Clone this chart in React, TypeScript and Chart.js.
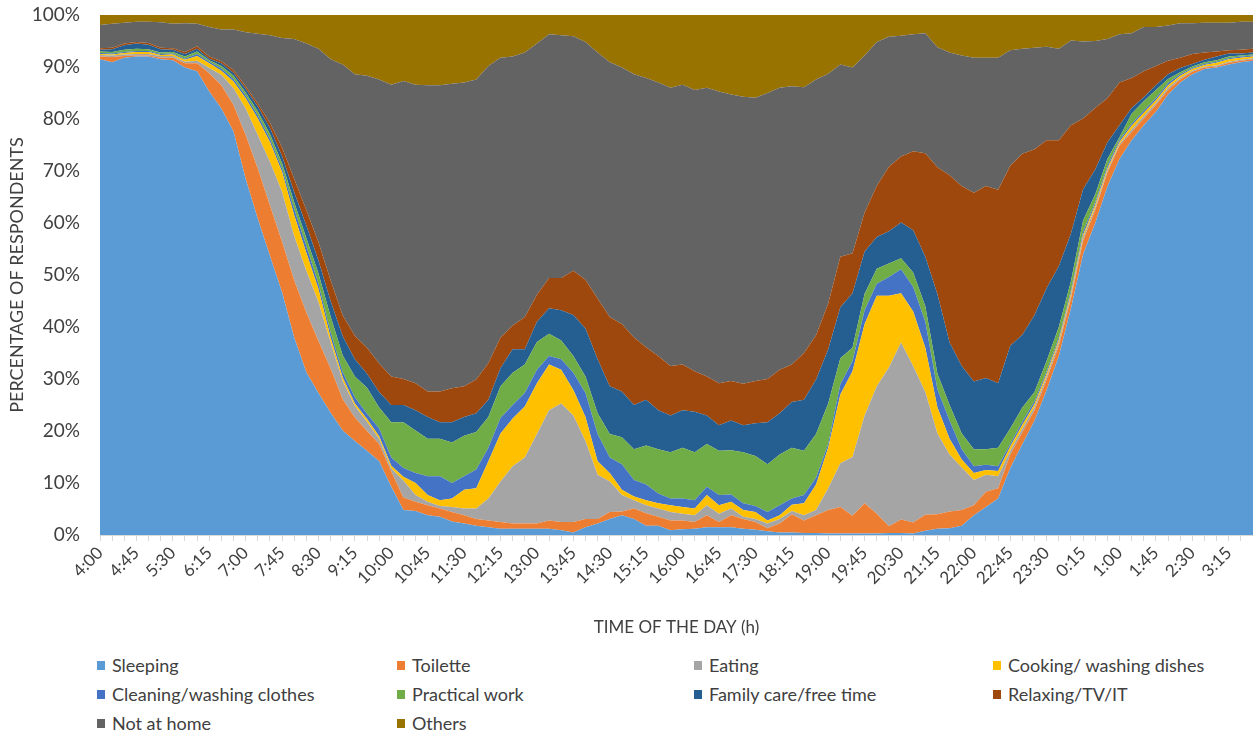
import React, { useEffect, useRef } from 'react';
import { Chart, registerables } from 'chart.js';

Chart.register(...registerables);

const timeLabels = [
  '4:00', '4:15', '4:30', '4:45', '5:00', '5:15', '5:30', '5:45', '6:00', '6:15',
  '6:30', '6:45', '7:00', '7:15', '7:30', '7:45', '8:00', '8:15', '8:30', '8:45',
  '9:00', '9:15', '9:30', '9:45', '10:00', '10:15', '10:30', '10:45', '11:00', '11:15',
  '11:30', '11:45', '12:00', '12:15', '12:30', '12:45', '13:00', '13:15', '13:30', '13:45',
  '14:00', '14:15', '14:30', '14:45', '15:00', '15:15', '15:30', '15:45', '16:00', '16:15',
  '16:30', '16:45', '17:00', '17:15', '17:30', '17:45', '18:00', '18:15', '18:30', '18:45',
  '19:00', '19:15', '19:30', '19:45', '20:00', '20:15', '20:30', '20:45', '21:00', '21:15',
  '21:30', '21:45', '22:00', '22:15', '22:30', '22:45', '23:00', '23:15', '23:30', '23:45',
  '0:00', '0:15', '0:30', '0:45', '1:00', '1:15', '1:30', '1:45', '2:00', '2:15',
  '2:30', '2:45', '3:00', '3:15', '3:30', '3:45',
];

const sleeping = [
  91.5, 90.9, 91.8, 92.0, 92.0, 91.5, 91.3, 89.9, 89.2, 85.3,
  82.0, 77.6, 68.5, 60.8, 53.7, 46.7, 38.0, 31.3, 27.3, 23.5,
  20.1, 18.1, 16.2, 14.2, 9.3, 4.8, 4.6, 3.8, 3.5, 2.6,
  2.2, 1.8, 1.5, 1.2, 1.2, 1.2, 1.2, 1.2, 0.9, 0.5,
  1.5, 2.2, 3.1, 3.8, 3.1, 1.8, 1.8, 0.9, 1.1, 1.2,
  1.5, 1.5, 1.5, 1.2, 1.0, 0.7, 0.5, 0.5, 0.4, 0.4,
  0.3, 0.3, 0.3, 0.3, 0.3, 0.4, 0.4, 0.3, 0.8, 1.2,
  1.3, 1.8, 3.8, 5.4, 7.0, 12.9, 17.5, 22.0, 27.9, 34.4,
  43.6, 54.0, 60.0, 67.0, 72.3, 75.9, 78.8, 81.4, 84.7, 87.0,
  88.6, 89.6, 89.9, 90.5, 90.9, 91.2,
];

const toilette = [
  0.5, 1.0, 0.3, 0.2, 0.2, 0.3, 0.5, 0.8, 1.5, 3.5,
  4.5, 5.1, 8.4, 9.7, 9.7, 9.7, 11.0, 11.5, 10.0, 8.5,
  6.0, 4.5, 3.8, 3.3, 2.9, 2.4, 1.8, 1.9, 1.6, 1.8,
  1.6, 1.3, 1.3, 1.3, 1.0, 1.0, 1.0, 1.6, 1.6, 2.0,
  1.6, 0.9, 1.3, 0.7, 2.0, 2.4, 1.7, 1.9, 1.7, 1.3,
  2.3, 1.0, 2.3, 1.9, 1.5, 0.6, 1.7, 3.5, 2.4, 3.4,
  4.5, 5.1, 3.4, 5.8, 3.8, 1.3, 2.6, 2.1, 3.1, 2.8,
  3.2, 3.0, 1.9, 2.9, 2.0, 2.6, 2.3, 2.0, 2.0, 2.0,
  1.9, 2.6, 2.5, 2.7, 2.6, 1.6, 1.3, 1.3, 0.9, 0.6,
  0.5, 0.3, 0.2, 0.3, 0.3, 0.3,
];

const eating = [
  0.3, 0.3, 0.3, 0.3, 0.3, 0.3, 0.3, 0.3, 0.5, 1.0,
  2.0, 3.2, 5.1, 6.4, 8.4, 9.6, 8.5, 8.0, 7.5, 5.0,
  3.5, 2.2, 1.8, 1.0, 0.6, 3.3, 1.3, 0.7, 0.5, 1.0,
  1.3, 2.0, 4.2, 7.8, 11.0, 12.7, 17.2, 21.2, 22.8, 20.5,
  15.0, 8.5, 5.9, 3.2, 1.6, 1.5, 1.6, 1.6, 1.3, 1.3,
  1.9, 1.6, 1.3, 0.4, 0.6, 0.9, 0.9, 0.6, 1.0, 1.0,
  4.2, 8.4, 11.3, 16.9, 24.5, 30.5, 34.0, 30.1, 23.6, 15.5,
  11.0, 8.2, 4.9, 3.3, 2.3, 0.7, 0.7, 0.6, 0.6, 0.6,
  0.5, 0.6, 0.5, 0.4, 0.3, 0.5, 0.5, 0.4, 0.4, 0.3,
  0.2, 0.2, 0.2, 0.2, 0.2, 0.2,
];

const cooking = [
  0.2, 0.2, 0.3, 0.4, 0.4, 0.2, 0.3, 0.4, 0.9, 0.9,
  0.8, 1.3, 2.0, 3.2, 3.8, 3.8, 4.0, 3.5, 2.5, 1.0,
  0.7, 0.5, 0.5, 0.5, 0.5, 0.7, 2.3, 1.3, 1.1, 1.6,
  3.6, 3.9, 7.2, 9.2, 9.2, 9.8, 9.8, 8.8, 6.5, 4.9,
  4.6, 2.6, 1.6, 1.0, 0.7, 1.0, 1.0, 1.3, 1.3, 1.3,
  2.0, 1.6, 1.3, 1.3, 1.3, 0.6, 0.7, 1.2, 2.3, 4.9,
  7.8, 13.2, 16.5, 17.6, 17.4, 13.8, 9.5, 10.5, 8.5, 5.0,
  3.0, 1.5, 1.3, 0.9, 1.0, 0.8, 0.7, 0.6, 0.5, 0.5,
  0.5, 0.5, 0.5, 0.4, 0.4, 0.7, 0.6, 0.5, 0.5, 0.4,
  0.3, 0.3, 0.5, 0.5, 0.4, 0.3,
];

const cleaning = [
  0.2, 0.2, 0.2, 0.2, 0.2, 0.2, 0.2, 0.2, 0.4, 0.3,
  0.4, 0.5, 0.5, 0.6, 0.6, 0.7, 1.2, 1.3, 1.0, 1.0,
  1.0, 1.2, 1.0, 1.5, 1.6, 1.7, 1.9, 3.6, 4.6, 3.0,
  2.6, 3.6, 2.6, 3.0, 2.6, 2.6, 2.6, 1.6, 2.0, 3.3,
  4.6, 5.2, 3.0, 4.9, 3.2, 3.0, 1.9, 1.3, 1.6, 1.6,
  1.6, 2.0, 1.4, 1.3, 1.2, 1.6, 1.9, 1.2, 1.6, 1.3,
  0.7, 2.0, 1.9, 2.6, 2.3, 3.6, 4.6, 4.7, 5.0, 3.5,
  3.5, 2.0, 1.3, 1.0, 0.9, 0.5, 0.6, 0.5, 0.5, 0.5,
  0.5, 0.6, 0.5, 0.5, 0.4, 0.4, 0.4, 0.4, 0.4, 0.3,
  0.2, 0.2, 0.2, 0.2, 0.2, 0.2,
];

const practical = [
  0.3, 0.3, 0.4, 0.4, 0.3, 0.3, 0.3, 0.4, 0.5, 0.3,
  0.5, 0.6, 0.6, 0.8, 0.9, 1.0, 1.3, 1.5, 2.0, 3.0,
  3.2, 4.0, 5.0, 4.0, 6.8, 8.8, 8.2, 7.2, 7.2, 7.8,
  7.8, 7.2, 5.9, 6.1, 6.2, 5.5, 5.3, 4.3, 3.6, 3.2,
  3.2, 4.0, 4.5, 5.2, 5.9, 7.5, 8.5, 8.9, 9.8, 9.2,
  8.2, 8.5, 8.5, 9.8, 9.6, 9.2, 9.8, 9.8, 8.5, 8.4,
  7.8, 5.0, 2.6, 3.2, 2.9, 2.6, 2.1, 2.8, 3.0, 3.0,
  3.0, 3.0, 3.3, 3.0, 3.6, 3.0, 2.7, 1.8, 2.0, 2.0,
  1.8, 2.2, 1.5, 1.3, 0.5, 1.9, 1.8, 1.6, 0.8, 0.4,
  0.3, 0.3, 0.3, 0.3, 0.2, 0.2,
];

const familyCare = [
  0.3, 0.5, 0.9, 1.0, 0.9, 0.6, 0.4, 0.5, 0.5, 0.3,
  0.5, 0.6, 0.7, 0.9, 1.2, 1.4, 1.9, 2.4, 2.5, 3.0,
  3.7, 3.3, 2.7, 3.0, 3.3, 3.3, 3.9, 4.2, 3.2, 3.9,
  3.6, 3.6, 3.3, 3.5, 4.5, 2.9, 3.9, 4.9, 5.8, 7.9,
  9.2, 10.4, 9.2, 8.8, 8.5, 8.8, 7.5, 7.1, 7.2, 7.8,
  5.5, 4.9, 5.7, 5.2, 6.3, 8.1, 7.9, 8.8, 9.8, 10.5,
  10.4, 9.8, 10.5, 8.1, 6.1, 6.2, 6.9, 8.1, 9.5, 15.3,
  12.0, 13.0, 13.0, 13.7, 12.4, 15.9, 14.0, 14.8, 14.0, 11.7,
  9.2, 6.0, 4.8, 3.2, 2.3, 1.1, 0.8, 0.9, 0.9, 0.8,
  0.5, 0.5, 0.7, 0.6, 0.4, 0.4,
];

const relaxing = [
  0.3, 0.3, 0.3, 0.3, 0.3, 0.3, 0.3, 0.4, 0.5, 0.4,
  0.4, 0.5, 0.5, 0.6, 1.0, 1.6, 2.6, 3.0, 3.5, 4.0,
  4.0, 4.5, 5.0, 5.5, 5.5, 5.0, 5.2, 4.9, 5.9, 6.5,
  5.9, 6.5, 7.1, 5.9, 4.6, 6.2, 5.2, 5.8, 6.2, 8.5,
  9.4, 11.7, 13.3, 13.0, 13.0, 10.1, 10.4, 9.5, 8.8, 7.8,
  7.5, 8.1, 7.6, 8.0, 8.1, 8.3, 8.4, 7.2, 9.0, 8.5,
  8.8, 9.7, 7.7, 7.5, 9.8, 12.4, 12.7, 15.2, 19.9, 24.4,
  32.2, 34.6, 36.3, 36.9, 37.2, 34.6, 34.8, 31.9, 28.4, 24.2,
  20.8, 13.6, 11.8, 8.5, 8.2, 5.8, 5.0, 3.7, 2.6, 2.0,
  1.9, 1.4, 1.0, 0.6, 0.7, 0.7,
];

const notAtHome = [
  4.5, 4.6, 4.0, 3.9, 4.1, 4.9, 4.7, 5.5, 4.3, 5.7,
  6.1, 7.8, 10.4, 13.4, 16.8, 21.1, 26.9, 32.0, 37.2, 42.5,
  48.3, 50.3, 52.3, 54.6, 56.1, 57.3, 57.4, 58.9, 58.9, 58.6,
  58.4, 57.7, 57.1, 53.8, 51.7, 50.9, 48.3, 46.9, 46.7, 45.1,
  45.7, 47.3, 49.0, 49.3, 50.6, 51.8, 52.6, 53.5, 53.8, 54.1,
  55.5, 56.1, 55.1, 55.2, 54.5, 55.0, 54.2, 53.5, 51.1, 49.2,
  44.2, 37.0, 35.7, 30.2, 27.7, 25.0, 23.2, 22.5, 23.1, 23.1,
  23.6, 25.1, 26.0, 24.7, 25.4, 22.2, 20.2, 19.5, 18.0, 17.6,
  16.3, 14.8, 12.9, 11.4, 9.3, 8.6, 8.5, 7.5, 6.8, 6.6,
  5.9, 5.7, 5.5, 5.3, 5.4, 5.2,
];

const others = [
  1.9, 1.7, 1.5, 1.3, 1.3, 1.4, 1.7, 1.6, 1.7, 2.3,
  2.8, 2.8, 3.3, 3.6, 3.9, 4.4, 4.6, 5.5, 6.5, 8.5,
  9.5, 11.4, 11.7, 12.4, 13.4, 12.7, 13.4, 13.5, 13.5, 13.2,
  13.0, 12.4, 9.8, 8.2, 8.0, 7.2, 5.5, 3.7, 3.9, 4.1,
  5.2, 7.2, 9.1, 10.1, 11.4, 12.1, 13.0, 14.0, 13.4, 14.4,
  14.0, 14.7, 15.3, 15.7, 15.9, 15.0, 14.0, 13.7, 13.9, 12.4,
  11.3, 9.5, 10.1, 7.8, 5.2, 4.2, 4.0, 3.7, 3.5, 6.2,
  7.2, 7.8, 8.2, 8.2, 8.2, 6.8, 6.5, 6.3, 6.1, 6.5,
  4.9, 5.1, 5.0, 4.6, 3.7, 3.5, 2.3, 2.3, 2.0, 1.6,
  1.6, 1.5, 1.5, 1.5, 1.3, 1.3,
];

const seriesNames = [
  'Sleeping', 'Toilette', 'Eating', 'Cooking/ washing dishes', 'Cleaning/washing clothes',
  'Practical work', 'Family care/free time', 'Relaxing/TV/IT', 'Not at home', 'Others',
];
const seriesColors = [
  '#5B9BD5', '#ED7D31', '#A5A5A5', '#FFC000', '#4472C4',
  '#70AD47', '#255E91', '#9E480E', '#636363', '#997300',
];
const seriesData = [
  sleeping, toilette, eating, cooking, cleaning,
  practical, familyCare, relaxing, notAtHome, others,
];

const FONT = 'Lato, "Open Sans", "Liberation Sans", sans-serif';
const TEXT = '#404040';

const legendCols = [97, 397, 694, 993];
const legendRows = [656, 685, 714];

export default function App() {
  const ref = useRef<HTMLCanvasElement | null>(null);

  useEffect(() => {
    if (!ref.current) return;
    const chart = new Chart(ref.current, {
      type: 'line',
      data: {
        labels: timeLabels,
        datasets: seriesData.map((d, i) => ({
          label: seriesNames[i],
          data: d,
          backgroundColor: seriesColors[i],
          borderColor: seriesColors[i],
          borderWidth: 0,
          pointRadius: 0,
          tension: 0,
          fill: i === 0 ? 'origin' : '-1',
        })),
      },
      options: {
        animation: false,
        responsive: false,
        maintainAspectRatio: false,
        layout: { padding: { top: 15, right: 0, left: 6, bottom: 0 } },
        plugins: {
          legend: { display: false },
          tooltip: { enabled: false },
        },
        scales: {
          x: {
            offset: false,
            grid: {
              drawOnChartArea: false,
              drawTicks: true,
              tickLength: 6,
              color: '#D9D9D9',
            },
            border: { color: '#D9D9D9' },
            ticks: {
              autoSkip: false,
              maxRotation: 45,
              minRotation: 45,
              color: TEXT,
              padding: 2,
              font: { family: FONT, size: 17 },
              callback: (_v: any, i: number) => (i % 3 === 0 ? timeLabels[i] : ''),
            },
            title: {
              display: true,
              text: 'TIME OF THE DAY (h)',
              color: TEXT,
              font: { family: FONT, size: 17 },
              padding: { top: 0, bottom: 2 },
            },
            afterFit: (s: any) => {
              s.height = 105;
              s.paddingRight = 0;
              s.paddingLeft = 0;
            },
          },
          y: {
            stacked: true,
            min: 0,
            max: 100,
            grid: { display: false },
            border: { display: false },
            ticks: {
              stepSize: 10,
              color: TEXT,
              padding: 12,
              font: { family: FONT, size: 19 },
              callback: (v: any) => v + '%',
            },
            title: {
              display: true,
              text: 'PERCENTAGE OF RESPONDENTS',
              color: TEXT,
              font: { family: FONT, size: 18 },
              padding: { top: 0, bottom: 2 },
            },
            afterFit: (s: any) => {
              s.width = 94;
              s.paddingTop = 0;
              s.paddingBottom = 0;
            },
          },
        },
      },
    });
    return () => chart.destroy();
  }, []);

  return (
    <div
      style={{
        position: 'fixed',
        left: 0,
        top: 0,
        width: 1253,
        height: 735,
        background: '#fff',
        fontFamily: FONT,
        overflow: 'hidden',
      }}
    >
      <canvas ref={ref} width={1253} height={640} style={{ display: 'block' }} />
      {seriesNames.map((name, i) => (
        <div
          key={name}
          style={{
            position: 'absolute',
            left: legendCols[i % 4],
            top: legendRows[Math.floor(i / 4)],
            display: 'flex',
            alignItems: 'center',
            fontSize: 18,
            color: TEXT,
            whiteSpace: 'nowrap',
            lineHeight: '18px',
          }}
        >
          <span
            style={{
              display: 'inline-block',
              width: 8,
              height: 9,
              background: seriesColors[i],
              marginRight: 7,
            }}
          />
          {name}
        </div>
      ))}
    </div>
  );
}
